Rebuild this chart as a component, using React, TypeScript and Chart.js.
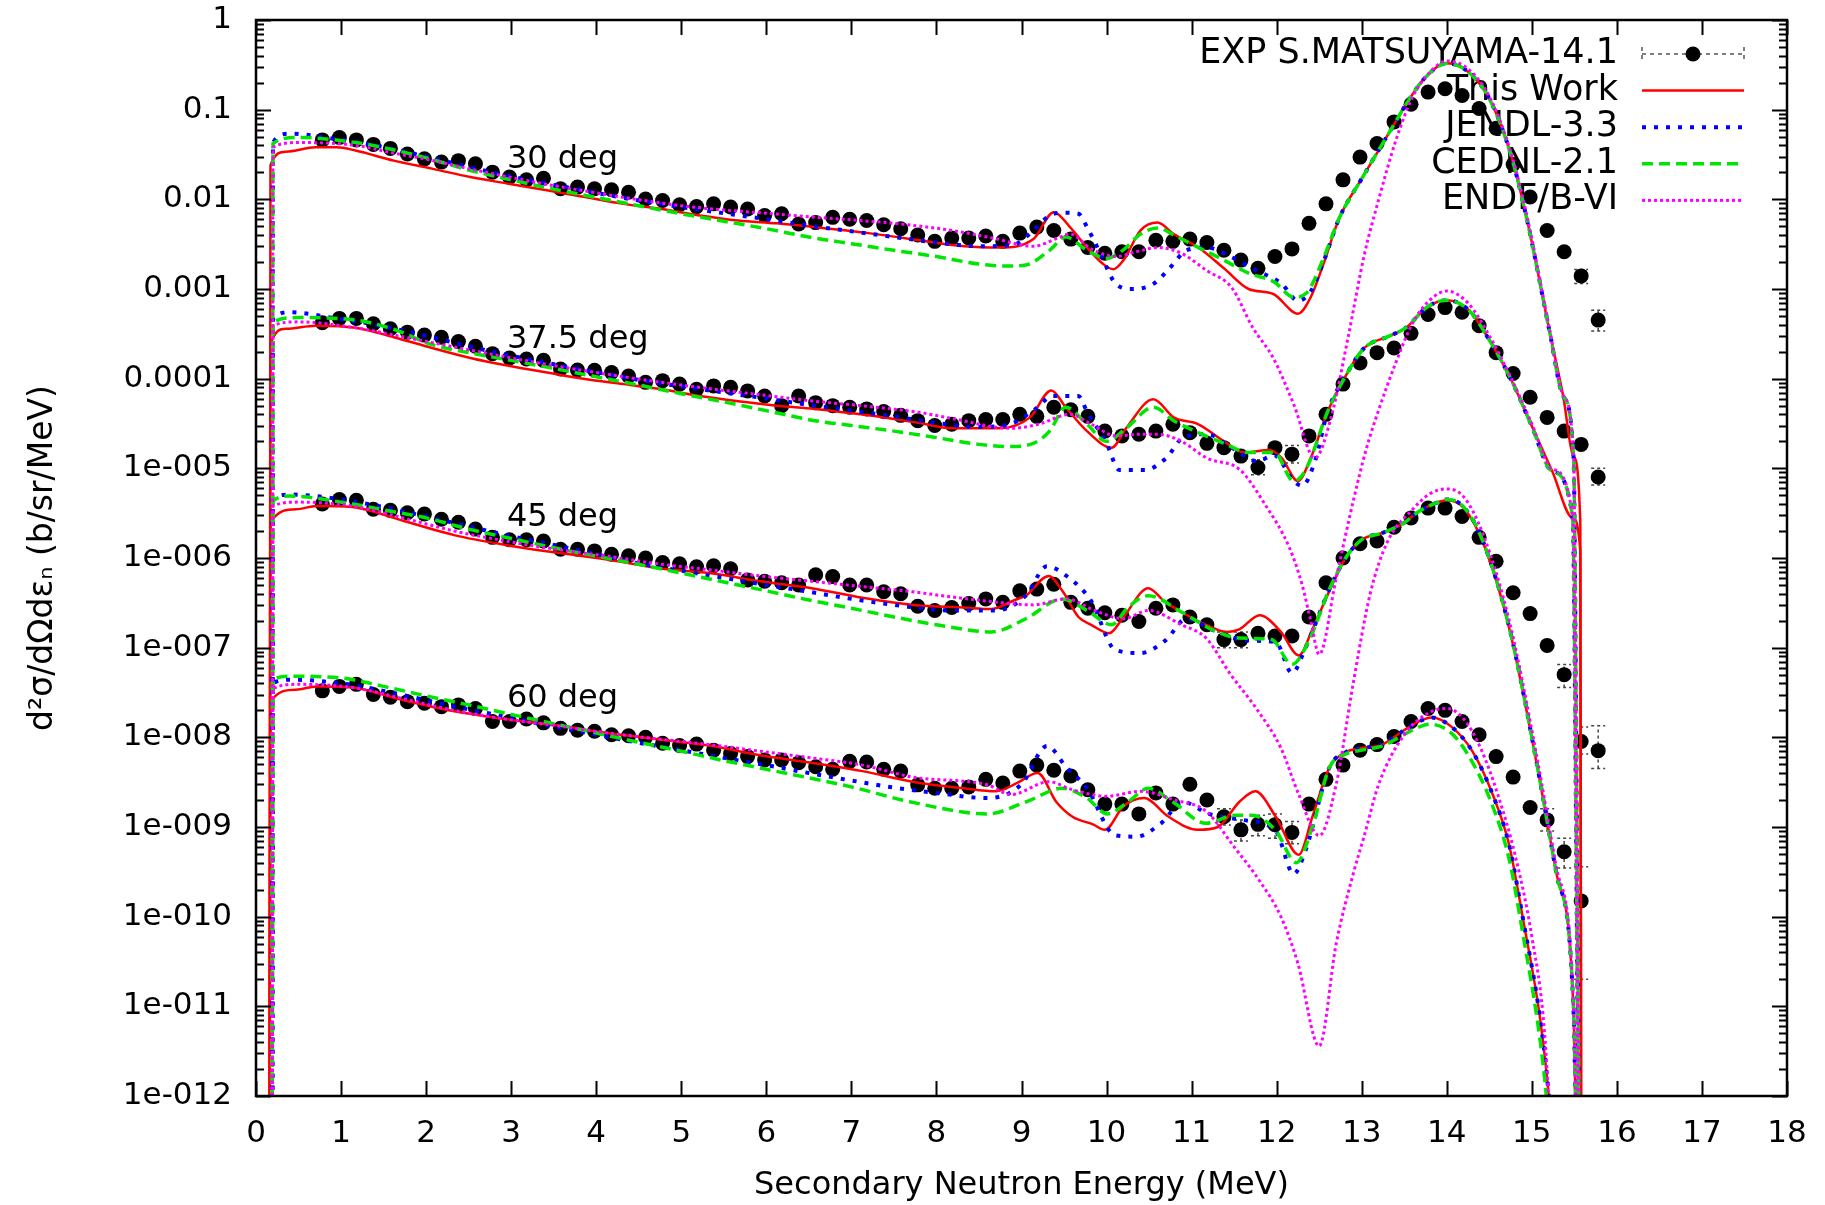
import React, { useEffect, useRef } from 'react';
import { Chart, registerables } from 'chart.js';

Chart.register(...registerables);

const W = 1825;
const H = 1205;

// ---------- axes ----------
const xTickValues = [0, 1, 2, 3, 4, 5, 6, 7, 8, 9, 10, 11, 12, 13, 14, 15, 16, 17, 18];
const yTickValues = [1e-12, 1e-11, 1e-10, 1e-9, 1e-8, 1e-7, 1e-6, 1e-5, 1e-4, 1e-3, 1e-2, 1e-1, 1];
const yTickLabels = ['1e-012', '1e-011', '1e-010', '1e-009', '1e-008', '1e-007', '1e-006', '1e-005', '0.0001', '0.001', '0.01', '0.1', '1'];
const xTitle = 'Secondary Neutron Energy (MeV)';
const yTitle = 'd²σ/dΩdεₙ (b/sr/MeV)';

// ---------- legend / labels ----------
const seriesNames = ['EXP S.MATSUYAMA-14.1', 'This Work', 'JENDL-3.3', 'CEDNL-2.1', 'ENDF/B-VI'];
const angleLabels = ['30 deg', '37.5 deg', '45 deg', '60 deg'];
const angleLabelE = [2.95, 2.95, 2.95, 2.95];
const angleLabelY = [0.028, 2.75e-4, 2.85e-6, 2.7e-8];

// ---------- experimental data (S. Matsuyama, 14.1 MeV) ----------
const expE = [0.78, 0.98, 1.18, 1.38, 1.58, 1.78, 1.98, 2.18, 2.38, 2.58, 2.78, 2.98, 3.18, 3.38, 3.58, 3.78, 3.98, 4.18, 4.38, 4.58, 4.78, 4.98, 5.18, 5.38, 5.58, 5.78, 5.98, 6.18, 6.38, 6.58, 6.78, 6.98, 7.18, 7.38, 7.58, 7.78, 7.98, 8.18, 8.38, 8.58, 8.78, 8.98, 9.18, 9.38, 9.58, 9.78, 9.98, 10.18, 10.38, 10.58, 10.78, 10.98, 11.18, 11.38, 11.58, 11.78, 11.98, 12.18, 12.38, 12.58, 12.78, 12.98, 13.18, 13.38, 13.58, 13.78, 13.98, 14.18, 14.38, 14.58, 14.78, 14.98, 15.18, 15.38, 15.58, 15.78];

const exp30 = [
  0.046, 0.049, 0.046, 0.041, 0.037, 0.032, 0.0283, 0.026, 0.027, 0.0249,
  0.0201, 0.0177, 0.0165, 0.0172, 0.0131, 0.0137, 0.0131, 0.0128, 0.012, 0.0101,
  0.0097, 0.0087, 0.0083, 0.0089, 0.0082, 0.0078, 0.0066, 0.0069, 0.0053, 0.0055,
  0.0063, 0.006, 0.0058, 0.0052, 0.0047, 0.004, 0.0034, 0.0037, 0.0037, 0.0039,
  0.0034, 0.0042, 0.0049, 0.0045, 0.0036, 0.0029, 0.0025, 0.0026, 0.0026, 0.0035,
  0.0034, 0.0036, 0.0033, 0.0027, 0.0021, 0.0017, 0.0023, 0.0028, 0.0054, 0.0089,
  0.0165, 0.0296, 0.042, 0.073, 0.115, 0.157, 0.171, 0.144, 0.103, 0.062,
  0.0245, 0.0106, 0.0045, 0.0026, 0.0014, 0.00045,
];
const exp375 = [
  4.2e-4, 4.7e-4, 4.7e-4, 4.1e-4, 3.6e-4, 3.3e-4, 3.06e-4, 2.9e-4, 2.6e-4, 2.3e-4,
  1.9e-4, 1.7e-4, 1.66e-4, 1.6e-4, 1.28e-4, 1.25e-4, 1.24e-4, 1.17e-4, 1.07e-4, 9.1e-5,
  9.5e-5, 8.7e-5, 7.6e-5, 8.3e-5, 8.0e-5, 7.3e-5, 6.4e-5, 5.0e-5, 6.4e-5, 5.4e-5,
  5.0e-5, 4.8e-5, 4.6e-5, 4.3e-5, 3.9e-5, 3.4e-5, 3.0e-5, 3.1e-5, 3.4e-5, 3.5e-5,
  3.5e-5, 4.0e-5, 3.8e-5, 4.8e-5, 4.5e-5, 3.8e-5, 2.6e-5, 2.3e-5, 2.4e-5, 2.6e-5,
  3.1e-5, 2.5e-5, 1.9e-5, 1.7e-5, 1.37e-5, 1.02e-5, 1.7e-5, 1.44e-5, 2.3e-5, 4.0e-5,
  8.7e-5, 1.5e-4, 1.95e-4, 2.2e-4, 3.2e-4, 5.2e-4, 6.2e-4, 5.5e-4, 3.9e-4, 1.95e-4,
  1.14e-4, 6.2e-5, 3.7e-5, 2.6e-5, 1.85e-5, 8.0e-6,
];
const exp45 = [
  4.0e-6, 4.5e-6, 4.4e-6, 3.5e-6, 3.4e-6, 3.2e-6, 3.1e-6, 2.7e-6, 2.5e-6, 2.1e-6,
  1.7e-6, 1.6e-6, 1.6e-6, 1.55e-6, 1.25e-6, 1.25e-6, 1.2e-6, 1.1e-6, 1.06e-6, 1.0e-6,
  8.9e-7, 8.6e-7, 8.0e-7, 8.2e-7, 7.6e-7, 5.7e-7, 5.5e-7, 5.3e-7, 5.0e-7, 6.5e-7,
  6.2e-7, 5.0e-7, 5.0e-7, 4.2e-7, 4.0e-7, 2.9e-7, 2.6e-7, 2.8e-7, 3.1e-7, 3.5e-7,
  3.2e-7, 4.3e-7, 4.5e-7, 5.1e-7, 3.2e-7, 2.75e-7, 2.45e-7, 2.3e-7, 1.96e-7, 2.75e-7,
  3.0e-7, 2.2e-7, 1.8e-7, 1.23e-7, 1.23e-7, 1.45e-7, 1.35e-7, 1.35e-7, 2.2e-7, 5.3e-7,
  1.0e-6, 1.44e-6, 1.55e-6, 2.2e-6, 2.8e-6, 3.6e-6, 3.6e-6, 2.9e-6, 1.7e-6, 9.2e-7,
  4.1e-7, 2.4e-7, 1.06e-7, 5.0e-8, 9.0e-9, 7.1e-9,
];
const exp60 = [
  3.3e-8, 3.7e-8, 3.9e-8, 3.0e-8, 2.8e-8, 2.5e-8, 2.4e-8, 2.2e-8, 2.3e-8, 2.1e-8,
  1.5e-8, 1.5e-8, 1.6e-8, 1.45e-8, 1.26e-8, 1.2e-8, 1.17e-8, 1.07e-8, 1.04e-8, 1.0e-8,
  8.6e-9, 8.1e-9, 8.4e-9, 7.2e-9, 6.6e-9, 6.1e-9, 5.6e-9, 5.6e-9, 5.2e-9, 4.7e-9,
  4.4e-9, 5.4e-9, 5.3e-9, 4.4e-9, 4.2e-9, 2.95e-9, 2.7e-9, 2.7e-9, 2.8e-9, 3.4e-9,
  3.1e-9, 4.2e-9, 4.9e-9, 4.3e-9, 3.7e-9, 2.6e-9, 1.8e-9, 1.8e-9, 1.4e-9, 2.4e-9,
  1.8e-9, 3.0e-9, 2.0e-9, 1.3e-9, 9.3e-10, 1.07e-9, 1.06e-9, 8.7e-10, 1.8e-9, 3.4e-9,
  4.9e-9, 7.2e-9, 8.3e-9, 1.02e-8, 1.5e-8, 2.1e-8, 2.0e-8, 1.5e-8, 1.07e-8, 6.1e-9,
  3.6e-9, 1.65e-9, 1.2e-9, 5.3e-10, 1.5e-10, null,
];

// visible error bars: [energy, low, high]
const errBar30 = [[15.58, 1.15e-3, 1.65e-3], [15.78, 3.4e-4, 5.8e-4]];
const errBar375 = [[11.78, 8.5e-6, 1.25e-5], [12.18, 1.15e-5, 1.8e-5], [15.78, 6.5e-6, 1.0e-5]];
const errBar45 = [[11.38, 1.0e-7, 1.5e-7], [11.58, 1.0e-7, 1.5e-7], [15.38, 3.6e-8, 6.5e-8], [15.58, 6.5e-9, 1.3e-8], [15.78, 4.5e-9, 1.35e-8]];
const errBar60 = [[11.38, 1.05e-9, 1.6e-9], [11.58, 7e-10, 1.2e-9], [11.78, 8e-10, 1.35e-9], [11.98, 7.5e-10, 1.4e-9], [12.18, 6.5e-10, 1.15e-9], [15.18, 9e-10, 1.6e-9], [15.38, 3.5e-10, 7.5e-10], [15.58, 2e-11, 3.6e-10]];

// ---------- evaluated curves: [energy (MeV), value] ----------
const thisWork30 = [[0.16, 1e-13], [0.17, 0.024], [0.35, 0.034], [0.7, 0.038], [0.95, 0.038], [1.17, 0.035], [1.62, 0.027], [2.07, 0.022], [2.52, 0.0177], [2.97, 0.0149], [3.42, 0.0126], [3.87, 0.0106], [4.32, 0.0089], [4.77, 0.0078], [5.22, 0.0066], [5.67, 0.0058], [6.12, 0.0054], [6.57, 0.0049], [7.2, 0.0042], [7.8, 0.0035], [8.18, 0.0031], [8.74, 0.0029], [9.14, 0.0036], [9.38, 0.0072], [9.57, 0.0049], [9.77, 0.0029], [9.96, 0.0019], [10.08, 0.00166], [10.2, 0.0021], [10.4, 0.0045], [10.6, 0.0055], [10.79, 0.0041], [11.08, 0.0029], [11.38, 0.0017], [11.67, 0.001], [11.96, 0.00088], [12.25, 0.00053], [12.4, 0.00081], [12.55, 0.0019], [12.74, 0.0063], [13.0, 0.017], [13.34, 0.059], [13.55, 0.127], [13.75, 0.23], [14.0, 0.33], [14.26, 0.26], [14.51, 0.127], [14.76, 0.03], [14.96, 0.005], [15.21, 3.3e-4], [15.37, 6.3e-5], [15.49, 1.35e-5], [15.57, 2.5e-6], [15.58, 1e-13]];
const jendl30 = [[0.19, 1e-13], [0.2, 0.043], [0.4, 0.054], [0.94, 0.047], [1.4, 0.04], [2.0, 0.03], [2.5, 0.023], [3.0, 0.018], [3.5, 0.0145], [4.0, 0.0118], [4.5, 0.0097], [5.0, 0.0082], [5.5, 0.007], [6.0, 0.006], [6.5, 0.0051], [7.0, 0.0044], [7.5, 0.0038], [8.0, 0.0033], [8.5, 0.003], [8.9, 0.0031], [9.14, 0.0045], [9.33, 0.0066], [9.5, 0.0071], [9.67, 0.0069], [9.77, 0.0049], [9.91, 0.0027], [10.11, 0.00114], [10.3, 0.001], [10.55, 0.00114], [10.74, 0.0017], [10.94, 0.0027], [11.18, 0.0029], [11.47, 0.00226], [11.77, 0.0016], [12.06, 0.00114], [12.25, 0.00074], [12.4, 0.00094], [12.55, 0.002], [12.74, 0.0063], [13.0, 0.017], [13.34, 0.059], [13.55, 0.127], [13.75, 0.23], [14.0, 0.33], [14.26, 0.26], [14.51, 0.127], [14.76, 0.03], [14.96, 0.005], [15.21, 3.3e-4], [15.37, 6.3e-5], [15.49, 1.35e-5], [15.53, 1e-9], [15.56, 1e-13]];
const cednl30 = [[0.19, 1e-13], [0.2, 0.042], [0.5, 0.049], [1.17, 0.043], [1.6, 0.036], [2.0, 0.029], [2.52, 0.021], [3.0, 0.0165], [3.5, 0.013], [4.0, 0.0105], [4.5, 0.0085], [5.0, 0.0069], [5.5, 0.0057], [6.0, 0.0047], [6.5, 0.0038], [7.0, 0.0032], [7.5, 0.0027], [8.0, 0.0023], [8.5, 0.0019], [8.85, 0.0018], [9.05, 0.00185], [9.33, 0.0027], [9.52, 0.0038], [9.77, 0.0027], [10.0, 0.0022], [10.19, 0.0027], [10.4, 0.0041], [10.6, 0.0048], [10.79, 0.004], [11.08, 0.0029], [11.38, 0.0021], [11.67, 0.0015], [11.97, 0.0012], [12.2, 0.00081], [12.35, 0.0009], [12.55, 0.0022], [12.74, 0.0063], [13.0, 0.017], [13.34, 0.059], [13.55, 0.127], [13.75, 0.23], [14.0, 0.33], [14.26, 0.26], [14.51, 0.127], [14.76, 0.03], [14.96, 0.005], [15.21, 3.3e-4], [15.37, 6.3e-5], [15.49, 1.35e-5], [15.53, 1e-9], [15.56, 1e-13]];
const endf30 = [[0.19, 1e-13], [0.2, 0.038], [0.5, 0.043], [1.17, 0.04], [1.6, 0.033], [2.0, 0.028], [2.5, 0.022], [3.0, 0.0175], [3.5, 0.0142], [4.0, 0.0118], [4.5, 0.0099], [5.0, 0.0085], [5.5, 0.0076], [6.0, 0.007], [6.5, 0.0064], [7.0, 0.0059], [7.5, 0.0054], [8.18, 0.0045], [8.66, 0.0037], [9.14, 0.003], [9.43, 0.0037], [9.57, 0.0041], [9.82, 0.0028], [10.11, 0.0023], [10.35, 0.0026], [10.6, 0.0029], [10.88, 0.0025], [11.18, 0.0016], [11.47, 0.00104], [11.72, 0.00037], [11.96, 1.7e-4], [12.2, 5.2e-5], [12.45, 1.3e-5], [12.64, 3.7e-5], [12.84, 2.9e-4], [13.03, 2.4e-3], [13.2, 0.01], [13.4, 0.045], [13.6, 0.14], [13.8, 0.26], [14.0, 0.35], [14.26, 0.28], [14.51, 0.135], [14.76, 0.032], [14.96, 0.0055], [15.21, 3.5e-4], [15.37, 6.5e-5], [15.49, 1.4e-5], [15.53, 1e-9], [15.56, 1e-13]];

const thisWork375 = [[0.16, 1e-13], [0.17, 2.4e-4], [0.35, 3.6e-4], [0.7, 3.9e-4], [1.17, 3.7e-4], [1.62, 2.9e-4], [2.07, 2.2e-4], [2.52, 1.7e-4], [2.97, 1.39e-4], [3.42, 1.17e-4], [3.87, 9.9e-5], [4.32, 8.7e-5], [4.77, 7.6e-5], [5.22, 6.4e-5], [5.67, 5.6e-5], [6.12, 5.0e-5], [6.57, 4.6e-5], [7.2, 3.9e-5], [7.8, 3.2e-5], [8.18, 2.8e-5], [8.74, 2.8e-5], [9.1, 3.7e-5], [9.35, 7.4e-5], [9.52, 4.8e-5], [9.77, 2.6e-5], [10.06, 1.7e-5], [10.23, 2.8e-5], [10.55, 5.9e-5], [10.79, 3.7e-5], [11.08, 3.1e-5], [11.38, 2.0e-5], [11.62, 1.5e-5], [11.91, 1.6e-5], [12.06, 1.3e-5], [12.25, 7.2e-6], [12.4, 1.3e-5], [12.6, 4.3e-5], [12.84, 1.2e-4], [13.03, 2.2e-4], [13.33, 3.0e-4], [13.52, 3.7e-4], [13.77, 6.3e-4], [14.0, 7.5e-4], [14.26, 5.8e-4], [14.51, 2.6e-4], [14.76, 9.6e-5], [14.99, 3.1e-5], [15.24, 9.3e-6], [15.48, 2.8e-6], [15.57, 1.2e-6], [15.58, 1e-13]];
const jendl375 = [[0.19, 1e-13], [0.2, 4.6e-4], [0.4, 5.5e-4], [0.94, 4.7e-4], [1.4, 4.0e-4], [2.0, 3.0e-4], [2.5, 2.3e-4], [3.0, 1.8e-4], [3.5, 1.45e-4], [4.0, 1.18e-4], [4.5, 9.7e-5], [5.0, 8.2e-5], [5.5, 7.0e-5], [6.0, 6.0e-5], [6.5, 5.1e-5], [7.0, 4.4e-5], [7.5, 3.8e-5], [8.0, 3.2e-5], [8.5, 2.9e-5], [8.9, 3.2e-5], [9.15, 4.5e-5], [9.37, 6.4e-5], [9.67, 6.4e-5], [9.77, 4.3e-5], [10.0, 1.9e-5], [10.15, 9.6e-6], [10.45, 9.6e-6], [10.7, 1.3e-5], [10.9, 2.2e-5], [11.18, 2.4e-5], [11.47, 1.7e-5], [11.77, 1.2e-5], [11.97, 1.4e-5], [12.2, 7.2e-6], [12.3, 6.4e-6], [12.45, 1.2e-5], [12.6, 4.3e-5], [12.84, 1.2e-4], [13.03, 2.2e-4], [13.33, 3.0e-4], [13.52, 3.7e-4], [13.77, 6.3e-4], [14.0, 7.5e-4], [14.26, 5.8e-4], [14.51, 2.6e-4], [14.76, 9.6e-5], [14.99, 3.1e-5], [15.24, 9.3e-6], [15.48, 2.8e-6], [15.52, 1e-9], [15.55, 1e-13]];
const cednl375 = [[0.19, 1e-13], [0.2, 4.3e-4], [0.5, 4.8e-4], [1.17, 4.5e-4], [1.6, 3.6e-4], [2.07, 2.4e-4], [2.5, 1.95e-4], [3.0, 1.6e-4], [3.5, 1.3e-4], [4.0, 1.05e-4], [4.5, 8.5e-5], [5.0, 6.8e-5], [5.5, 5.5e-5], [6.0, 4.4e-5], [6.57, 3.4e-5], [7.0, 3.0e-5], [7.5, 2.6e-5], [8.0, 2.2e-5], [8.5, 1.85e-5], [8.85, 1.75e-5], [9.14, 1.9e-5], [9.33, 2.6e-5], [9.52, 4.8e-5], [9.77, 3.1e-5], [10.0, 2.0e-5], [10.23, 2.8e-5], [10.55, 4.8e-5], [10.79, 3.4e-5], [11.08, 2.5e-5], [11.38, 1.9e-5], [11.67, 1.5e-5], [11.97, 1.5e-5], [12.2, 7.2e-6], [12.35, 1.0e-5], [12.6, 4.3e-5], [12.84, 1.2e-4], [13.03, 2.2e-4], [13.33, 3.0e-4], [13.52, 3.7e-4], [13.77, 6.3e-4], [14.0, 7.5e-4], [14.26, 5.8e-4], [14.51, 2.6e-4], [14.76, 9.6e-5], [14.99, 3.1e-5], [15.24, 9.3e-6], [15.48, 2.8e-6], [15.52, 1e-9], [15.55, 1e-13]];
const endf375 = [[0.19, 1e-13], [0.2, 3.9e-4], [0.5, 4.3e-4], [1.17, 3.7e-4], [1.6, 3.1e-4], [2.0, 2.6e-4], [2.5, 2.1e-4], [3.0, 1.7e-4], [3.5, 1.4e-4], [4.0, 1.17e-4], [4.5, 9.9e-5], [5.0, 8.5e-5], [5.5, 7.4e-5], [6.0, 6.5e-5], [6.57, 5.6e-5], [7.2, 4.9e-5], [7.8, 4.2e-5], [8.18, 3.6e-5], [8.88, 2.8e-5], [9.2, 3.1e-5], [9.57, 4.0e-5], [9.82, 3.1e-5], [10.11, 2.3e-5], [10.4, 2.4e-5], [10.6, 2.4e-5], [10.88, 2.0e-5], [11.18, 1.3e-5], [11.57, 9.6e-6], [11.86, 4.0e-6], [12.15, 1.3e-6], [12.3, 5e-7], [12.4, 2e-7], [12.5, 8.4e-8], [12.7, 6e-7], [12.9, 4.3e-6], [13.05, 1.6e-5], [13.2, 4.5e-5], [13.4, 1.5e-4], [13.6, 4.2e-4], [13.8, 7.5e-4], [14.0, 9.5e-4], [14.26, 6.8e-4], [14.51, 2.9e-4], [14.76, 1.0e-4], [14.99, 3.3e-5], [15.24, 9.8e-6], [15.48, 2.9e-6], [15.52, 1e-9], [15.55, 1e-13]];

const thisWork45 = [[0.16, 1e-13], [0.17, 2.5e-6], [0.47, 3.5e-6], [0.71, 3.8e-6], [1.13, 3.7e-6], [1.73, 2.6e-6], [2.33, 1.8e-6], [2.93, 1.4e-6], [3.53, 1.15e-6], [4.13, 9.6e-7], [4.73, 7.7e-7], [5.33, 6.8e-7], [5.93, 5.5e-7], [6.53, 4.6e-7], [7.13, 3.6e-7], [7.72, 3.0e-7], [8.32, 2.8e-7], [8.65, 2.7e-7], [8.92, 3.4e-7], [9.05, 3.8e-7], [9.32, 6.3e-7], [9.48, 4.3e-7], [9.67, 2.2e-7], [9.82, 1.8e-7], [10.03, 1.45e-7], [10.2, 2.2e-7], [10.49, 4.6e-7], [10.68, 3.3e-7], [10.88, 2.5e-7], [11.17, 1.8e-7], [11.41, 1.5e-7], [11.56, 1.6e-7], [11.8, 2.3e-7], [12.05, 1.5e-7], [12.26, 8.2e-8], [12.42, 1.6e-7], [12.62, 4.3e-7], [12.81, 1.0e-6], [13.0, 1.6e-6], [13.24, 1.9e-6], [13.48, 2.4e-6], [13.67, 3.3e-6], [13.87, 4.1e-6], [14.0, 4.4e-6], [14.2, 3.6e-6], [14.43, 1.45e-6], [14.74, 1.56e-7], [15.06, 4.9e-9], [15.29, 3e-10], [15.49, 9e-12], [15.53, 1e-13]];
const jendl45 = [[0.19, 1e-13], [0.2, 4.5e-6], [0.4, 5.1e-6], [1.0, 4.5e-6], [1.5, 3.7e-6], [2.0, 2.9e-6], [2.5, 2.25e-6], [3.0, 1.75e-6], [3.5, 1.4e-6], [4.0, 1.1e-6], [4.5, 8.7e-7], [5.0, 7.2e-7], [5.5, 6.0e-7], [6.0, 5.0e-7], [6.5, 4.2e-7], [7.0, 3.5e-7], [7.5, 3.0e-7], [8.16, 2.6e-7], [8.7, 2.6e-7], [9.05, 3.8e-7], [9.3, 8.1e-7], [9.53, 6.3e-7], [9.82, 3.3e-7], [10.1, 9.5e-8], [10.4, 8.7e-8], [10.69, 1.2e-7], [10.94, 2.1e-7], [11.26, 1.56e-7], [11.65, 1.2e-7], [11.99, 1.15e-7], [12.18, 5.2e-8], [12.34, 1.0e-7], [12.62, 4.5e-7], [12.81, 1.0e-6], [13.0, 1.6e-6], [13.24, 1.9e-6], [13.48, 2.4e-6], [13.67, 3.3e-6], [13.87, 4.1e-6], [14.0, 4.5e-6], [14.2, 3.7e-6], [14.43, 1.5e-6], [14.74, 1.6e-7], [15.06, 5e-9], [15.29, 3e-10], [15.49, 9e-12], [15.53, 1e-13]];
const cednl45 = [[0.19, 1e-13], [0.2, 4.3e-6], [0.4, 4.9e-6], [1.13, 4.0e-6], [1.6, 3.3e-6], [2.0, 2.8e-6], [2.5, 2.1e-6], [3.0, 1.65e-6], [3.5, 1.3e-6], [4.0, 1.05e-6], [4.5, 8.5e-7], [5.0, 6.8e-7], [5.5, 5.4e-7], [6.0, 4.3e-7], [6.5, 3.4e-7], [7.0, 2.75e-7], [7.5, 2.2e-7], [8.0, 1.8e-7], [8.65, 1.5e-7], [9.05, 2.1e-7], [9.48, 3.5e-7], [9.77, 2.6e-7], [10.06, 1.8e-7], [10.25, 2.8e-7], [10.49, 3.8e-7], [10.88, 2.5e-7], [11.26, 1.56e-7], [11.56, 1.28e-7], [11.94, 1.23e-7], [12.18, 6.5e-8], [12.38, 1.2e-7], [12.62, 4.5e-7], [12.81, 1.0e-6], [13.0, 1.6e-6], [13.24, 1.9e-6], [13.48, 2.4e-6], [13.67, 3.3e-6], [13.87, 4.1e-6], [14.0, 4.5e-6], [14.2, 3.7e-6], [14.43, 1.5e-6], [14.74, 1.6e-7], [15.06, 5e-9], [15.29, 3e-10], [15.49, 9e-12], [15.53, 1e-13]];
const endf45 = [[0.19, 1e-13], [0.2, 3.8e-6], [0.5, 4.2e-6], [1.13, 3.8e-6], [1.73, 2.8e-6], [2.33, 2.0e-6], [2.93, 1.55e-6], [3.53, 1.25e-6], [4.13, 1.05e-6], [4.73, 8.6e-7], [5.33, 7.4e-7], [5.93, 6.3e-7], [6.53, 5.5e-7], [7.13, 4.8e-7], [7.72, 4.2e-7], [8.16, 3.7e-7], [8.6, 3.3e-7], [9.14, 3.0e-7], [9.53, 3.5e-7], [9.86, 2.6e-7], [10.2, 2.1e-7], [10.49, 2.6e-7], [10.88, 1.8e-7], [11.17, 1.28e-7], [11.46, 5e-8], [11.76, 2.1e-8], [12.05, 7.6e-9], [12.26, 2.3e-9], [12.5, 8e-10], [12.7, 3e-9], [12.9, 4e-8], [13.1, 4e-7], [13.3, 1.5e-6], [13.6, 3.5e-6], [13.8, 5.2e-6], [14.0, 5.9e-6], [14.2, 4.8e-6], [14.43, 1.8e-6], [14.74, 1.9e-7], [15.06, 6e-9], [15.29, 3.5e-10], [15.49, 1e-11], [15.53, 1e-13]];

const thisWork60 = [[0.16, 1e-13], [0.17, 2.5e-8], [0.47, 3.4e-8], [0.71, 3.7e-8], [1.13, 3.6e-8], [1.73, 2.6e-8], [2.33, 1.95e-8], [2.93, 1.6e-8], [3.53, 1.36e-8], [4.13, 1.12e-8], [4.73, 9.5e-9], [5.33, 8.1e-9], [5.93, 6.3e-9], [6.53, 5.2e-9], [7.13, 4.2e-9], [7.72, 3.2e-9], [8.32, 2.7e-9], [8.7, 2.5e-9], [8.95, 3.1e-9], [9.19, 4.0e-9], [9.41, 1.9e-9], [9.6, 1.3e-9], [9.84, 1.07e-9], [9.98, 9.3e-10], [10.2, 1.7e-9], [10.44, 2.1e-9], [10.73, 1.3e-9], [11.07, 9.3e-10], [11.31, 1.0e-9], [11.56, 1.9e-9], [11.75, 2.5e-9], [11.99, 1.3e-9], [12.26, 4.9e-10], [12.42, 1.3e-9], [12.62, 4.6e-9], [12.81, 6.8e-9], [13.0, 7.6e-9], [13.24, 8.3e-9], [13.48, 1.17e-8], [13.67, 1.5e-8], [13.82, 1.66e-8], [14.06, 1.3e-8], [14.3, 7e-9], [14.54, 2.3e-9], [14.73, 6.5e-10], [14.9, 9e-11], [15.1, 7e-12], [15.2, 1e-12], [15.28, 1e-13]];
const jendl60 = [[0.19, 1e-13], [0.2, 4.0e-8], [0.4, 4.4e-8], [1.0, 4.0e-8], [1.5, 3.3e-8], [2.0, 2.6e-8], [2.5, 2.05e-8], [3.0, 1.65e-8], [3.5, 1.32e-8], [4.0, 1.07e-8], [4.5, 8.7e-9], [5.0, 7.2e-9], [5.5, 5.9e-9], [6.0, 4.9e-9], [6.5, 4.0e-9], [7.0, 3.3e-9], [7.5, 2.75e-9], [8.0, 2.4e-9], [8.6, 2.1e-9], [9.0, 3.0e-9], [9.3, 8e-9], [9.53, 4.6e-9], [9.77, 2.7e-9], [10.1, 8.1e-10], [10.35, 7.8e-10], [10.64, 1.1e-9], [10.9, 1.9e-9], [11.2, 1.4e-9], [11.6, 1.2e-9], [11.99, 9e-10], [12.2, 3e-10], [12.34, 5.5e-10], [12.62, 4.6e-9], [12.81, 6.8e-9], [13.0, 7.6e-9], [13.24, 8.3e-9], [13.48, 1.17e-8], [13.67, 1.5e-8], [13.82, 1.66e-8], [14.06, 1.3e-8], [14.3, 7e-9], [14.54, 2.3e-9], [14.73, 6.5e-10], [14.9, 9e-11], [15.1, 7e-12], [15.2, 1e-12], [15.28, 1e-13]];
const cednl60 = [[0.19, 1e-13], [0.2, 4.4e-8], [0.4, 4.8e-8], [1.0, 4.6e-8], [1.5, 3.7e-8], [2.0, 2.9e-8], [2.5, 2.3e-8], [3.0, 1.8e-8], [3.5, 1.42e-8], [4.0, 1.12e-8], [4.5, 8.8e-9], [5.0, 7.0e-9], [5.5, 5.5e-9], [6.0, 4.4e-9], [7.0, 2.8e-9], [7.7, 1.9e-9], [8.6, 1.4e-9], [9.05, 1.9e-9], [9.48, 2.7e-9], [9.77, 2.1e-9], [10.01, 1.4e-9], [10.25, 1.9e-9], [10.49, 2.7e-9], [10.78, 1.9e-9], [11.17, 1.1e-9], [11.51, 1.35e-9], [11.7, 1.35e-9], [11.99, 9.1e-10], [12.23, 4e-10], [12.42, 1.0e-9], [12.62, 4.6e-9], [12.81, 6.5e-9], [13.0, 7.2e-9], [13.24, 8e-9], [13.48, 1.05e-8], [13.67, 1.3e-8], [13.8, 1.4e-8], [14.06, 1.1e-8], [14.3, 5.3e-9], [14.54, 1.7e-9], [14.73, 4.5e-10], [14.9, 6e-11], [15.1, 4e-12], [15.17, 1e-12], [15.25, 1e-13]];
const endf60 = [[0.19, 1e-13], [0.2, 3.5e-8], [0.5, 3.9e-8], [1.13, 3.6e-8], [1.73, 2.7e-8], [2.33, 2.0e-8], [2.93, 1.6e-8], [3.53, 1.35e-8], [4.13, 1.12e-8], [4.73, 9.6e-9], [5.33, 8.3e-9], [5.93, 7.0e-9], [6.53, 5.9e-9], [7.13, 4.9e-9], [7.72, 3.6e-9], [8.6, 2.95e-9], [8.88, 2.3e-9], [9.32, 3.2e-9], [9.6, 2.6e-9], [10.0, 2.2e-9], [10.4, 2.5e-9], [10.8, 2e-9], [11.17, 1.5e-9], [11.5, 6e-10], [11.8, 2.5e-10], [12.05, 1e-10], [12.25, 3e-11], [12.5, 3.6e-12], [12.7, 5e-11], [12.9, 3e-10], [13.03, 8e-10], [13.2, 3e-9], [13.5, 1.07e-8], [13.8, 1.9e-8], [14.0, 2.1e-8], [14.2, 1.6e-8], [14.4, 7.5e-9], [14.6, 2.3e-9], [14.8, 5e-10], [15.0, 6e-11], [15.15, 5e-12], [15.25, 1e-13]];

const expSets = [exp30, exp375, exp45, exp60];
const errSets = [errBar30, errBar375, errBar45, errBar60];
const thisWorkSets = [thisWork30, thisWork375, thisWork45, thisWork60];
const jendlSets = [jendl30, jendl375, jendl45, jendl60];
const cednlSets = [cednl30, cednl375, cednl45, cednl60];
const endfSets = [endf30, endf375, endf45, endf60];

// ---------- styles ----------
const FONT = 'DejaVu Sans';
const curveStyles = [
  { color: '#ff0000', width: 2.5, dash: [] as number[], order: 4 },
  { color: '#0000ff', width: 4, dash: [4, 8], order: 3 },
  { color: '#00e600', width: 3.5, dash: [11, 6], order: 2 },
  { color: '#ff00ff', width: 3, dash: [3, 3], order: 1 },
];
const curveSets = [thisWorkSets, jendlSets, cednlSets, endfSets];

const decoPlugin = {
  id: 'deco',
  beforeDatasetsDraw(chart: any) {
    const { ctx, scales } = chart;
    const xs = scales.x;
    const ys = scales.y;
    ctx.save();
    // legend (gnuplot-style key, top right)
    const textX = 1618;
    const x0 = 1642;
    const x1 = 1744;
    const rowY0 = 54;
    const rowDy = 36.6;
    ctx.font = `35px "${FONT}"`;
    ctx.textAlign = 'right';
    ctx.textBaseline = 'middle';
    ctx.fillStyle = '#000';
    seriesNames.forEach((name, i) => {
      const yy = rowY0 + i * rowDy;
      ctx.fillText(name, textX, yy);
      if (i === 0) {
        ctx.strokeStyle = '#555';
        ctx.lineWidth = 1.5;
        ctx.setLineDash([4, 4]);
        ctx.beginPath();
        ctx.moveTo(x0, yy);
        ctx.lineTo(x1, yy);
        ctx.stroke();
        ctx.beginPath();
        ctx.moveTo(x0, yy - 7);
        ctx.lineTo(x0, yy + 7);
        ctx.moveTo(x1, yy - 7);
        ctx.lineTo(x1, yy + 7);
        ctx.stroke();
        ctx.setLineDash([]);
        ctx.beginPath();
        ctx.arc((x0 + x1) / 2, yy, 7.5, 0, Math.PI * 2);
        ctx.fill();
      } else {
        const st = curveStyles[i - 1];
        ctx.strokeStyle = st.color;
        ctx.lineWidth = st.width;
        ctx.setLineDash(st.dash);
        ctx.beginPath();
        ctx.moveTo(x0, yy);
        ctx.lineTo(x1, yy);
        ctx.stroke();
        ctx.setLineDash([]);
      }
    });
    // angle labels
    ctx.font = `32px "${FONT}"`;
    ctx.textAlign = 'left';
    ctx.fillStyle = '#000';
    angleLabels.forEach((t, i) => {
      ctx.fillText(t, xs.getPixelForValue(angleLabelE[i]), ys.getPixelForValue(angleLabelY[i]));
    });
    // error bars (dashed, under the points)
    ctx.strokeStyle = '#444';
    ctx.lineWidth = 1.5;
    ctx.setLineDash([3, 3]);
    ctx.beginPath();
    errSets.forEach((bars) => {
      bars.forEach(([e, lo, hi]) => {
        const px = xs.getPixelForValue(e);
        const p1 = ys.getPixelForValue(lo);
        const p2 = ys.getPixelForValue(hi);
        ctx.moveTo(px, p1);
        ctx.lineTo(px, p2);
        ctx.moveTo(px - 7, p1);
        ctx.lineTo(px + 7, p1);
        ctx.moveTo(px - 7, p2);
        ctx.lineTo(px + 7, p2);
      });
    });
    ctx.stroke();
    ctx.setLineDash([]);
    ctx.restore();
  },
  afterDatasetsDraw(chart: any) {
    const { ctx, chartArea, scales } = chart;
    const { left, right, top, bottom } = chartArea;
    const xs = scales.x;
    const ys = scales.y;
    ctx.save();
    ctx.strokeStyle = '#000';
    ctx.lineWidth = 2;
    ctx.setLineDash([]);
    ctx.beginPath();
    xTickValues.forEach((v) => {
      const px = Math.round(xs.getPixelForValue(v)) + 0.5;
      ctx.moveTo(px, bottom);
      ctx.lineTo(px, bottom - 15);
      ctx.moveTo(px, top);
      ctx.lineTo(px, top + 15);
    });
    yTickValues.forEach((v, i) => {
      const py = Math.round(ys.getPixelForValue(v)) + 0.5;
      ctx.moveTo(left, py);
      ctx.lineTo(left + 15, py);
      ctx.moveTo(right, py);
      ctx.lineTo(right - 15, py);
      if (i < yTickValues.length - 1) {
        for (let m = 2; m <= 9; m++) {
          const pm = Math.round(ys.getPixelForValue(v * m)) + 0.5;
          ctx.moveTo(left, pm);
          ctx.lineTo(left + 8, pm);
          ctx.moveTo(right, pm);
          ctx.lineTo(right - 8, pm);
        }
      }
    });
    ctx.stroke();
    ctx.lineWidth = 2.5;
    ctx.strokeRect(left, top, right - left, bottom - top);
    ctx.restore();
  },
};

export default function App() {
  const canvasRef = useRef<HTMLCanvasElement | null>(null);

  useEffect(() => {
    const canvas = canvasRef.current;
    if (!canvas) return;

    const datasets: any[] = [];
    angleLabels.forEach((ang, g) => {
      const ev = expSets[g];
      datasets.push({
        label: `${seriesNames[0]} (${ang})`,
        data: expE
          .map((e, i) => (ev[i] == null ? null : { x: e, y: ev[i] }))
          .filter((p) => p !== null),
        showLine: false,
        pointRadius: 7.5,
        pointHoverRadius: 7.5,
        pointBackgroundColor: '#000',
        pointBorderColor: '#000',
        pointBorderWidth: 0,
        order: 5,
      });
      curveSets.forEach((sets, s) => {
        const st = curveStyles[s];
        datasets.push({
          label: `${seriesNames[s + 1]} (${ang})`,
          data: sets[g].map(([e, v]) => ({ x: e, y: v })),
          borderColor: st.color,
          backgroundColor: st.color,
          borderWidth: st.width,
          borderDash: st.dash,
          borderCapStyle: 'butt',
          pointRadius: 0,
          pointHoverRadius: 0,
          fill: false,
          cubicInterpolationMode: 'monotone',
          order: st.order,
        });
      });
    });

    const chart = new Chart(canvas, {
      type: 'line',
      data: { datasets },
      options: {
        responsive: false,
        animation: false,
        devicePixelRatio: 1,
        events: [],
        layout: { padding: { top: 20, right: 38, bottom: 0, left: 0 } },
        plugins: {
          legend: { display: false },
          tooltip: { enabled: false },
        },
        scales: {
          x: {
            type: 'linear',
            min: 0,
            max: 18,
            afterBuildTicks: (s: any) => {
              s.ticks = xTickValues.map((v) => ({ value: v }));
            },
            afterFit: (s: any) => {
              s.height = 109;
              s.paddingLeft = 0;
              s.paddingRight = 0;
            },
            ticks: {
              autoSkip: false,
              maxRotation: 0,
              padding: 19,
              color: '#000',
              font: { family: FONT, size: 31 },
              callback: (v: any) => String(v),
            },
            grid: { display: false, drawTicks: false },
            border: { display: false },
            title: {
              display: true,
              text: xTitle,
              color: '#000',
              font: { family: FONT, size: 32, lineHeight: 1.1 },
              padding: { top: 0, bottom: 2 },
            },
          },
          y: {
            type: 'logarithmic',
            min: 1e-12,
            max: 1,
            afterBuildTicks: (s: any) => {
              s.ticks = yTickValues.map((v) => ({ value: v }));
            },
            afterFit: (s: any) => {
              s.width = 256;
              s.paddingTop = 0;
              s.paddingBottom = 0;
            },
            ticks: {
              autoSkip: false,
              padding: 24,
              color: '#000',
              font: { family: FONT, size: 31 },
              callback: (v: any) => {
                const i = yTickValues.findIndex((t) => Math.abs(Math.log10(t) - Math.log10(v)) < 1e-6);
                return i >= 0 ? yTickLabels[i] : '';
              },
            },
            grid: { display: false, drawTicks: false },
            border: { display: false },
            title: {
              display: true,
              text: yTitle,
              color: '#000',
              font: { family: FONT, size: 33 },
              padding: { top: 24, bottom: 0 },
            },
          },
        },
      },
      plugins: [decoPlugin],
    });

    return () => {
      chart.destroy();
    };
  }, []);

  return (
    <div style={{ position: 'absolute', left: 0, top: 0, width: W, height: H, background: '#fff' }}>
      <canvas ref={canvasRef} width={W} height={H} style={{ display: 'block', width: W, height: H }} />
    </div>
  );
}
